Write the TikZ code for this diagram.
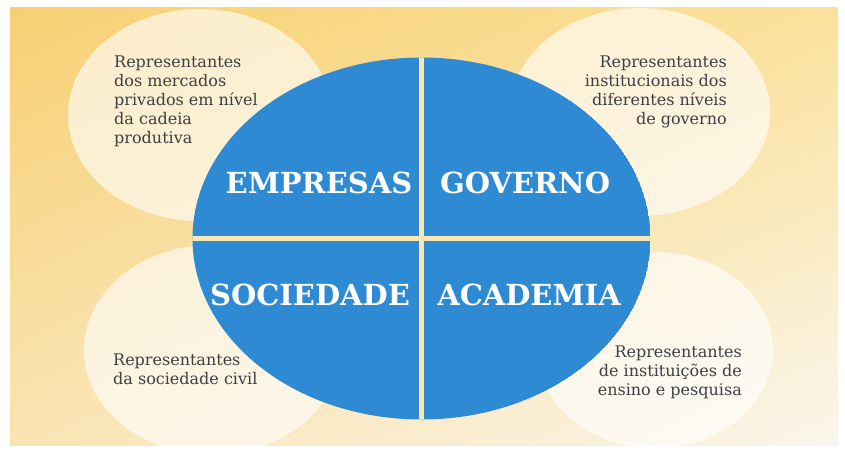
\documentclass[tikz,border=0pt]{standalone}
\usepackage{fontspec}
\usetikzlibrary{shadings}
\setmainfont{DejaVu Serif}
\definecolor{bluefill}{HTML}{2F8AD4}
\definecolor{txtgray}{HTML}{3E3F44}
\definecolor{gapcol}{HTML}{FBE6B4}
\definecolor{bgul}{RGB}{247,208,115}
\definecolor{bgur}{RGB}{251,225,155}
\definecolor{bgll}{RGB}{250,228,180}
\definecolor{bglr}{RGB}{250,246,236}
\begin{document}
\begin{tikzpicture}[x=1pt,y=-1pt,
  bubble/.style={fill=white,opacity=0.62,draw=none},
  smalltxt/.style={text=txtgray,font=\fontsize{16}{18.8}\selectfont,inner sep=0pt},
  bigtxt/.style={text=white,font=\bfseries\fontsize{29}{31}\selectfont,inner sep=0pt}]
\useasboundingbox (0,0) rectangle (845,462);
\fill[white] (0,0) rectangle (845,462);
\shade[upper left=bgul,upper right=bgur,lower left=bgll,lower right=bglr]
  (10,8) rectangle (838,445);
% bubbles
\fill[bubble] (200,115) ellipse [x radius=132, y radius=106];
\fill[bubble] (640,112) ellipse [x radius=130, y radius=104];
\fill[bubble] (212,350) ellipse [x radius=128, y radius=105];
\fill[bubble] (655,350) ellipse [x radius=118, y radius=98];
% main ellipse
\begin{scope}
\clip (421.5,238.5) ellipse [x radius=229, y radius=181];
\fill[bluefill] (421.5,238.5) ellipse [x radius=229, y radius=181];
\coordinate (vt) at (421.5,50);
\coordinate (vb) at (421.5,430);
\coordinate (hl) at (185,238.5);
\coordinate (hr) at (660,238.5);
\draw[gapcol,line width=5.5pt] (vt) -- (vb);
\draw[gapcol,line width=5.5pt] (hl) -- (hr);
\end{scope}
% labels
\node[bigtxt] (emp) at (319,183) {EMPRESAS};
\node[bigtxt] (gov) at (525,183) {GOVERNO};
\node[bigtxt] (soc) at (310,295) {SOCIEDADE};
\node[bigtxt] (aca) at (529,295) {ACADEMIA};
\node[smalltxt,anchor=north west,align=left] (t1) at (114,56) {Representantes\\dos mercados\\privados em nível\\da cadeia\\produtiva};
\node[smalltxt,anchor=north east,align=right] (t2) at (727,56) {Representantes\\institucionais dos\\diferentes níveis\\de governo};
\node[smalltxt,anchor=north west,align=left] (t3) at (113,354) {Representantes\\da sociedade civil};
\node[smalltxt,anchor=north east,align=right] (t4) at (742,346) {Representantes\\de instituições de\\ensino e pesquisa};
\end{tikzpicture}
\end{document}
